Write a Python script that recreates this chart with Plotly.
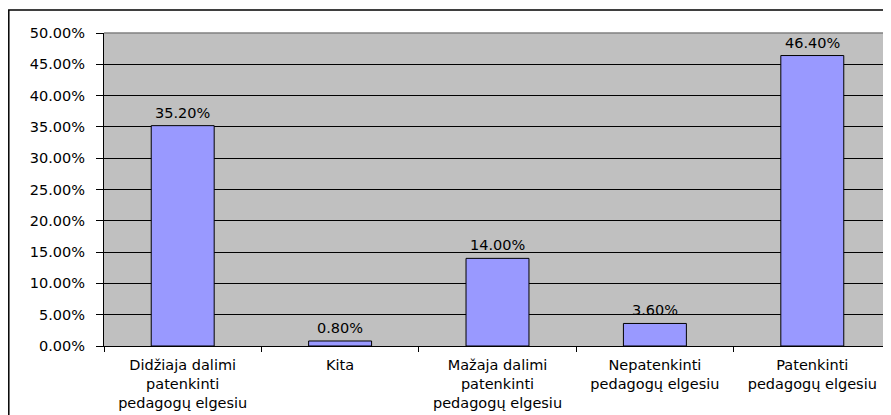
import plotly.graph_objects as go

categories = [
    "Didžiaja dalimi<br>patenkinti<br>pedagogų elgesiu",
    "Kita",
    "Mažaja dalimi<br>patenkinti<br>pedagogų elgesiu",
    "Nepatenkinti<br>pedagogų elgesiu",
    "Patenkinti<br>pedagogų elgesiu",
]
shares = [0.352, 0.008, 0.14, 0.036, 0.464]

# page body has an 8px margin, so the figure is sized to end at the window edge
W, H = 883, 407
L, R, T, B = 96, 0, 25, 69
FONT = "DejaVu Sans, Arial, sans-serif"
FS = 14.5

fig = go.Figure()
fig.add_trace(go.Bar(
    x=categories, y=shares, width=0.4,
    marker=dict(color="#9999FF", line=dict(color="black", width=1)),
))

# value labels above the bars
for cat, v in zip(categories, shares):
    fig.add_annotation(x=cat, y=v, text=f"{v:.2%}", showarrow=False,
                       yanchor="bottom", yshift=3,
                       font=dict(family=FONT, size=FS, color="black"))

# outer chart frame (left and top visible, rest cut off by the image)
pw = W - L - R
ph = H - T - B
fig.add_shape(type="rect", xref="paper", yref="paper",
              x0=(0.8 - L) / pw, x1=1.02, y0=-0.4, y1=1 + (T - 2) / ph,
              line=dict(color="black", width=1.5), layer="above")
fig.add_shape(type="line", xref="paper", yref="paper", x0=0, x1=1, y0=1, y1=1,
              line=dict(color="#808080", width=1.5), layer="above")

fig.update_layout(
    width=W, height=H,
    margin=dict(l=L, r=R, t=T, b=B),
    paper_bgcolor="white", plot_bgcolor="#C0C0C0",
    font=dict(family=FONT, size=FS, color="black"),
    showlegend=False,
)
fig.update_xaxes(
    showline=True, linecolor="black", linewidth=1,
    ticks="outside", tickson="boundaries", ticklen=5, tickcolor="black",
    showgrid=False, tickfont=dict(size=FS), ticklabelstandoff=6,
)
fig.update_yaxes(
    range=[0, 0.5], dtick=0.05, tickformat=".2%",
    showline=True, linecolor="black", linewidth=1,
    ticks="outside", ticklen=7, tickcolor="black",
    showgrid=True, gridcolor="black", gridwidth=1,
    tickfont=dict(size=FS), zeroline=False, ticklabelstandoff=8,
)

fig.write_html("out.html")
